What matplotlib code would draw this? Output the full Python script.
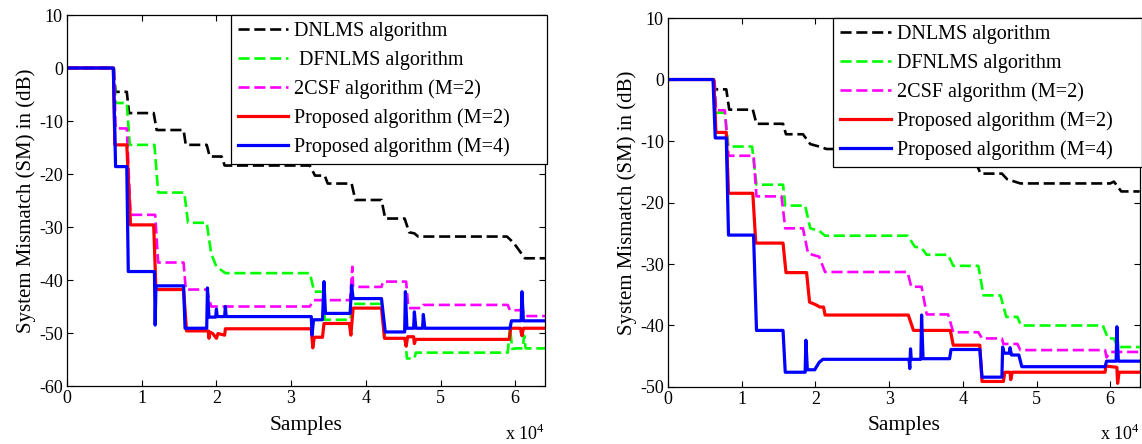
import numpy as np
import matplotlib.pyplot as plt

plt.rcParams['font.family'] = ['Liberation Serif', 'DejaVu Serif']
plt.rcParams['mathtext.fontset'] = 'custom'
plt.rcParams['mathtext.rm'] = 'Liberation Serif'
plt.rcParams['axes.unicode_minus'] = False

# ---- left experiment: system mismatch (dB) against sample index ----
left_dnlms_n = [0, 6200, 6500, 8000, 8300, 11600, 12000, 15600, 15900, 18700, 19100, 20700, 21100,
                32500, 33200, 34500, 34900, 38100, 38600, 42100, 42600, 45200, 45800, 46500, 47000,
                58900, 59800, 61300, 64000]
left_dnlms_db = [0, 0, -4.5, -4.5, -8.5, -8.5, -11.7, -11.7, -14.5, -14.5, -16.7, -16.7, -18.4,
                 -18.4, -20.3, -20.3, -21.8, -21.8, -24.9, -24.9, -28.4, -28.4, -31.0, -31.2, -31.8,
                 -31.8, -33.0, -35.9, -35.9]

left_dfnlms_n = [0, 6300, 6500, 8000, 8400, 11700, 12200, 15700, 16200, 18700, 19300, 20000, 21200,
                 32500, 33100, 34300, 34500, 37900, 38300, 42100, 42600, 45300, 45500, 46500, 46700,
                 59000, 59300, 59600, 60000, 61000, 61200, 61400, 64000]
left_dfnlms_db = [0, 0, -6.6, -6.6, -14.5, -14.5, -23.5, -23.5, -29.2, -29.2, -35.0, -37.5, -38.7,
                  -38.7, -42.2, -42.2, -47.5, -47.5, -44.5, -44.5, -51.0, -51.0, -54.8, -54.8, -53.7,
                  -53.7, -49.0, -53.0, -52.9, -52.9, -50.5, -52.9, -52.9]

left_2csf_n = [0, 6300, 6500, 8000, 8500, 11800, 12200, 15600, 15900, 18700, 19300, 32500, 33000,
               37900, 38200, 38300, 38500, 42100, 42300, 45400, 45700, 47500, 47700, 59000, 59300,
               61000, 61300, 64000]
left_2csf_db = [0, 0, -11.4, -11.4, -27.7, -27.7, -36.7, -36.7, -41.8, -41.8, -45.0, -45.0, -43.8,
                -43.8, -37.5, -41.3, -41.3, -41.3, -40.3, -40.3, -45.3, -45.3, -44.7, -44.7, -45.7,
                -45.7, -46.8, -46.8]

left_prop2_n = [0, 6200, 6400, 8000, 8500, 11600, 11900, 15600, 16000, 18900, 19000, 19100, 19500,
                20000, 20200, 21100, 21200, 32700, 32900, 33100, 34200, 34400, 37800, 38000, 38300,
                42100, 42500, 45200, 45400, 45600, 46400, 46500, 46700, 59200, 59400, 60700, 60900,
                61100, 64000]
left_prop2_db = [0, 0, -14.5, -14.5, -29.6, -29.6, -41.8, -41.8, -49.6, -49.6, -51.0, -49.8, -50.1,
                 -51.0, -50.1, -50.4, -49.2, -49.2, -52.8, -50.8, -50.8, -48.2, -48.2, -50.4, -45.3,
                 -45.3, -51.0, -51.0, -52.5, -50.7, -50.7, -52.0, -51.2, -51.2, -49.1, -49.1, -50.5,
                 -49.1, -49.1]

left_prop4_n = [0, 6200, 6500, 8000, 8200, 11700, 11800, 11900, 15600, 15800, 18700, 18800, 19000,
                19900, 20000, 20100, 21100, 21200, 21300, 32700, 32800, 33000, 34200, 34400, 34600,
                37900, 38100, 38300, 42100, 42600, 45200, 45300, 45500, 46400, 46500, 46700, 47600,
                47700, 47900, 59300, 59500, 60800, 60900, 61100, 64000]
left_prop4_db = [0, 0, -18.6, -18.6, -38.4, -38.4, -48.5, -41.1, -41.1, -49.1, -49.1, -41.5, -47.0,
                 -47.0, -45.5, -46.9, -46.9, -45.0, -46.9, -46.9, -50.4, -47.5, -47.5, -40.3, -46.3,
                 -46.3, -41.0, -43.5, -43.5, -49.8, -49.8, -42.2, -49.1, -49.1, -46.0, -49.1, -49.1,
                 -46.5, -49.1, -49.1, -47.7, -47.7, -42.2, -47.7, -47.7]

# ---- right experiment ----
right_dnlms_n = [0, 6100, 6300, 7900, 8300, 11500, 12000, 15600, 16000, 18300, 19300, 20500, 21500,
                 27000, 27500, 33500, 34000, 38200, 38700, 41900, 42400, 45300, 46000, 47800, 60000,
                 60500, 61500, 64000]
right_dnlms_db = [0, 0, -1.6, -1.6, -4.9, -4.9, -7.2, -7.2, -8.9, -8.9, -10.5, -10.9, -11.3,
                  -11.3, -12.3, -12.3, -13.2, -13.2, -13.9, -13.9, -15.3, -15.3, -16.2, -16.9, -16.9,
                  -16.6, -18.2, -18.2]

right_dfnlms_n = [0, 6300, 6500, 7700, 8200, 11400, 12000, 15600, 15900, 18600, 19300, 20500, 21300,
                  32500, 33500, 34400, 35100, 38000, 38700, 42100, 42800, 45100, 45900, 47400, 47900,
                  59000, 59700, 60500, 61000, 64000]
right_dfnlms_db = [0, 0, -5.4, -5.4, -10.9, -10.9, -17.1, -17.1, -20.5, -20.5, -24.2, -24.6, -25.4,
                   -25.4, -27.2, -27.4, -28.5, -28.5, -30.3, -30.3, -35.1, -35.1, -38.6, -38.6, -40.0,
                   -40.0, -42.1, -42.1, -43.5, -43.5]

right_2csf_n = [0, 6300, 6500, 7700, 8200, 11600, 12000, 15400, 15900, 18300, 19000, 20500, 21300,
                32500, 33000, 34400, 35100, 38000, 38700, 42100, 42600, 45300, 45500, 47400, 47800,
                59300, 59500, 60000, 64000]
right_2csf_db = [0, 0, -5.0, -5.0, -12.4, -12.4, -19.0, -19.0, -24.2, -24.2, -28.3, -28.8, -31.3,
                 -31.3, -33.7, -33.7, -38.2, -38.2, -41.1, -41.1, -42.1, -42.1, -43.0, -43.0, -44.0,
                 -44.0, -45.2, -44.3, -44.3]

right_prop2_n = [0, 6200, 6500, 7900, 8200, 11500, 11900, 15600, 16000, 18800, 19200, 20000, 20600,
                 21100, 21300, 32600, 33300, 38300, 38700, 42300, 42600, 45500, 45700, 46400, 46500,
                 46700, 59300, 59400, 60900, 61000, 61200, 64000]
right_prop2_db = [0, 0, -8.6, -8.6, -18.5, -18.5, -26.6, -26.6, -31.4, -31.4, -36.2, -36.6, -37.0,
                  -37.0, -38.3, -38.3, -40.8, -40.8, -43.2, -43.2, -49.1, -49.1, -47.6, -47.6, -48.8,
                  -47.6, -47.6, -46.6, -46.8, -49.4, -47.6, -47.6]

right_prop4_n = [0, 6100, 6400, 7900, 8200, 11600, 12000, 15600, 15900, 18600, 18700, 18900, 19900,
                 20500, 21000, 32700, 32800, 32900, 33000, 34300, 34400, 34600, 38200, 38400, 42300,
                 42600, 45300, 45400, 45600, 46300, 46400, 46600, 47600, 48000, 59300, 59500, 60800,
                 60900, 61100, 64000]
right_prop4_db = [0, 0, -9.5, -9.5, -25.3, -25.3, -40.8, -40.8, -47.6, -47.6, -42.4, -47.2, -47.2,
                  -46.0, -45.5, -45.5, -47.0, -43.8, -45.5, -45.5, -38.3, -45.4, -45.4, -43.9, -43.9,
                  -48.4, -48.4, -43.5, -44.5, -44.5, -43.6, -44.8, -44.8, -46.7, -46.7, -45.8, -45.8,
                  -40.2, -45.8, -45.8]

left_labels = ['DNLMS algorithm', ' DFNLMS algorithm', '2CSF algorithm (M=2)',
               'Proposed algorithm (M=2)', 'Proposed algorithm (M=4)']
right_labels = ['DNLMS algorithm', 'DFNLMS algorithm', '2CSF algorithm (M=2)',
                'Proposed algorithm (M=2)', 'Proposed algorithm (M=4)']

colors = ['k', (0, 1, 0), (1, 0, 1), (1, 0, 0), (0, 0, 1)]
dashed = [True, True, True, False, False]

left_curves = [(left_dnlms_n, left_dnlms_db), (left_dfnlms_n, left_dfnlms_db),
               (left_2csf_n, left_2csf_db), (left_prop2_n, left_prop2_db),
               (left_prop4_n, left_prop4_db)]
right_curves = [(right_dnlms_n, right_dnlms_db), (right_dfnlms_n, right_dfnlms_db),
                (right_2csf_n, right_2csf_db), (right_prop2_n, right_prop2_db),
                (right_prop4_n, right_prop4_db)]


def draw_panel(ax, curves, labels, ylim, leg_x0):
    for (n, db), lab, c, d in zip(curves, labels, colors, dashed):
        if d:
            ax.plot(n, db, color=c, lw=1.9, dashes=(4.2, 1.8), label=lab)
        else:
            ax.plot(n, db, color=c, lw=2.3, label=lab)
    ax.set_xlim(0, 64000)
    ax.set_ylim(*ylim)
    ax.set_xticks(np.arange(0, 70000, 10000))
    ax.set_xticklabels([str(i) for i in range(7)])
    ax.set_yticks(np.arange(ylim[0], ylim[1] + 1, 10))
    ax.tick_params(direction='in', length=4, width=0.8, top=True, right=True,
                   labelsize=13, pad=3)
    for s in ax.spines.values():
        s.set_linewidth(0.9)
    ax.set_xlabel('Samples', fontsize=15.5, labelpad=6)
    ax.set_ylabel('System Mismatch (SM) in (dB)', fontsize=15, labelpad=2)
    ax.text(1.0, -0.145, r'x 10$^{4}$', transform=ax.transAxes, fontsize=13,
            ha='right', va='baseline')
    leg = ax.legend(loc='upper left', bbox_to_anchor=(leg_x0, 0, 1.0 - leg_x0 + 0.004, 1.0),
                    mode='expand', borderaxespad=0, fontsize=14.5, handlelength=2.5,
                    handletextpad=0.3, labelspacing=0.47, borderpad=0.35, fancybox=False,
                    framealpha=1, edgecolor='k')
    leg.get_frame().set_linewidth(0.9)


fig = plt.figure(figsize=(11.42, 4.44), dpi=100)
ax1 = fig.add_axes([0.0587, 0.1306, 0.4186, 0.8356])
ax2 = fig.add_axes([0.585, 0.1284, 0.413, 0.831])

draw_panel(ax1, left_curves, left_labels, (-60, 10), 0.343)
draw_panel(ax2, right_curves, right_labels, (-50, 10), 0.35)

fig.savefig('out.png', dpi=100)
